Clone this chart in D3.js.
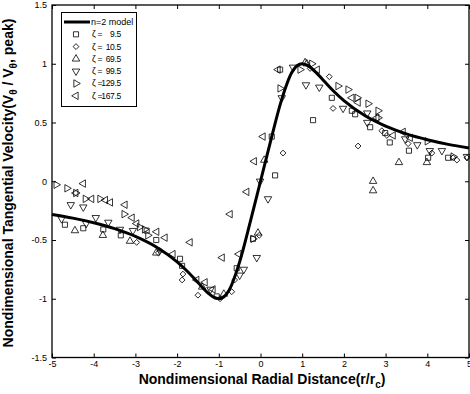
<!DOCTYPE html>
<html>
<head>
<meta charset="utf-8">
<script src="https://cdn.jsdelivr.net/npm/d3@7"></script>
<style>
  body { margin: 0; background: #fff; }
  text { font-family: Arial, "Liberation Sans", Helvetica, sans-serif; }
</style>
</head>
<body>
<div id="wrapper"></div>
<script>
// model curve (n=2)
const modelX = [-5, -4.5, -4, -3.5, -3, -2.5, -2, -1.75, -1.5, -1.25, -1.125, -1, -0.875, -0.75, -0.5, -0.25, 0,
  0.25, 0.5, 0.75, 0.875, 1, 1.125, 1.25, 1.5, 1.75, 2, 2.5, 3, 3.5, 4, 4.5, 5];
const modelY = [-0.283, -0.314, -0.353, -0.403, -0.469, -0.559, -0.686, -0.768, -0.862, -0.953, -0.986, -1.0, -0.983, -0.925, -0.686, -0.353, 0,
  0.353, 0.686, 0.925, 0.983, 1.0, 0.986, 0.953, 0.862, 0.768, 0.686, 0.559, 0.469, 0.403, 0.353, 0.314, 0.283];

// measured points, [r/rc, V/Vpeak]
const zeta95 = [[-4.69,-0.37],[-4.25,-0.40],[-3.77,-0.41],[-3.35,-0.46],[-2.73,-0.42],[-2.50,-0.50],[-1.93,-0.66],
  [-1.88,-0.72],[-1.05,-0.98],[-0.57,-0.74],[-0.18,-0.49],[0.27,0.38],[0.35,0.05],[1.26,0.52],[1.71,0.71],
  [2.19,0.60],[2.27,0.57],[2.63,0.46],[2.99,0.41],[3.10,0.33],[3.56,0.26],[4.02,0.20],[4.50,0.20],[0.47,0.95]];
const zeta105 = [[-2.97,-0.52],[-2.45,-0.61],[-2.41,-0.59],[-1.86,-0.79],[-1.88,-0.84],[-1.50,-0.97],[-0.97,-1.0],
  [-0.69,-0.94],[-0.62,-0.84],[-0.03,-0.46],[0.54,0.24],[1.19,0.96],[1.65,0.89],[1.74,0.62],[2.34,0.30],
  [2.91,0.43],[3.03,0.39],[3.54,0.32],[4.11,0.24],[4.62,0.20],[4.71,0.18],[4.95,0.20]];
const zeta695 = [[-4.45,-0.42],[-3.78,-0.46],[-3.13,-0.51],[-2.50,-0.61],[-1.40,-0.90],[-0.88,-0.96],[-0.06,-0.44],
  [0.09,0.18],[1.07,1.01],[1.11,1.0],[2.70,0.0],[2.70,-0.08],[3.32,0.16],[3.99,0.16]];
const zeta995 = [[-4.77,-0.32],[-4.55,-0.20],[-4.25,-0.22],[-4.18,-0.36],[-3.95,-0.31],[-3.65,-0.35],[-3.37,-0.41],
  [-3.06,-0.42],[-1.20,-0.92],[-0.50,-0.80],[-0.40,-0.75],[-0.09,-0.65],[-0.01,0.0],[0.18,-0.15],[0.51,0.71],
  [0.78,0.97],[1.09,0.82],[1.41,0.80],[1.98,0.62],[2.56,0.58],[2.56,0.50],[3.47,0.36],[3.76,0.31],[4.06,0.26],
  [4.35,0.26],[4.95,0.21]];
const zeta1295 = [[-4.90,-0.03],[-4.64,-0.06],[-4.43,-0.10],[-4.20,-0.15],[-3.85,-0.15],[-3.27,-0.28],[-2.90,-0.39],
  [-2.78,-0.41],[-2.70,-0.46],[-0.18,-0.49],[0.47,0.79],[0.95,0.95],[1.23,1.0],[1.86,0.81],[2.10,0.78],
  [2.32,0.71],[2.58,0.66],[2.82,0.60],[2.82,0.54],[4.00,0.34],[4.62,0.21]];
const zeta1675 = [[-4.43,-0.10],[-4.25,-0.02],[-4.05,-0.15],[-3.72,-0.16],[-3.60,-0.18],[-3.25,-0.20],[-3.08,-0.31],
  [-2.97,-0.36],[-2.49,-0.43],[-2.29,-0.48],[-2.10,-0.62],[-1.69,-0.52],[-1.53,-0.84],[-1.33,-0.86],[-1.14,-0.92],
  [-0.92,-0.65],[-0.73,-0.28],[-0.52,-0.62],[-0.33,-0.09],[-0.15,0.17],[0.06,0.38],[0.42,0.95],[1.36,0.95],
  [2.19,0.71],[2.34,0.67],[2.79,0.54],[3.18,0.39],[3.42,0.42],[3.59,0.37]];

const seriesNames = ["9.5", "10.5", "69.5", "99.5", "129.5", "167.5"];
const seriesData = [zeta95, zeta105, zeta695, zeta995, zeta1295, zeta1675];
const seriesMarkers = ["square", "diamond", "up", "down", "right", "left"];

const xTicks = [-5, -4, -3, -2, -1, 0, 1, 2, 3, 4, 5];
const yTicks = [-1.5, -1, -0.5, 0, 0.5, 1, 1.5];

const xAccessor = d => d[0];
const yAccessor = d => d[1];

let dimensions = {
  width: 470,
  height: 394,
  margin: { top: 5, right: 1, bottom: 36.5, left: 52 },
};
dimensions.boundedWidth = dimensions.width - dimensions.margin.left - dimensions.margin.right;
dimensions.boundedHeight = dimensions.height - dimensions.margin.top - dimensions.margin.bottom;

const svg = d3.select("#wrapper")
  .append("svg")
  .attr("width", dimensions.width)
  .attr("height", dimensions.height);

const bounds = svg.append("g")
  .attr("transform", `translate(${dimensions.margin.left},${dimensions.margin.top})`);

const xScale = d3.scaleLinear().domain([-5, 5]).range([0, dimensions.boundedWidth]);
const yScale = d3.scaleLinear().domain([-1.5, 1.5]).range([dimensions.boundedHeight, 0]);

// marker shapes
const markerPath = name => {
  if (name === "square") return d3.symbol(d3.symbolSquare, 26)();
  if (name === "diamond") return d3.symbol(d3.symbolSquare, 17)();
  return d3.symbol(d3.symbolTriangle, 24)();
};
const markerRotate = { square: 0, diamond: 45, up: 0, down: 180, right: 90, left: -90 };

// axes (ticks point inward, MATLAB style)
const fmt = d => String(d);
bounds.append("g")
  .attr("transform", `translate(0,${dimensions.boundedHeight})`)
  .call(d3.axisBottom(xScale).tickValues(xTicks).tickFormat(fmt).tickSizeInner(-4).tickSizeOuter(0).tickPadding(3))
  .call(g => g.select(".domain").remove());
bounds.append("g")
  .call(d3.axisLeft(yScale).tickValues(yTicks).tickFormat(fmt).tickSizeInner(-4).tickSizeOuter(0).tickPadding(5))
  .call(g => g.select(".domain").remove());
bounds.append("g")
  .call(d3.axisTop(xScale).tickValues(xTicks).tickFormat("").tickSizeInner(-4).tickSizeOuter(0))
  .call(g => g.select(".domain").remove());
bounds.append("g")
  .attr("transform", `translate(${dimensions.boundedWidth},0)`)
  .call(d3.axisRight(yScale).tickValues(yTicks).tickFormat("").tickSizeInner(-4).tickSizeOuter(0))
  .call(g => g.select(".domain").remove());
bounds.selectAll(".tick text").attr("font-size", 9).attr("fill", "#000").style("font-family", "Arial, 'Liberation Sans', sans-serif");
bounds.selectAll(".tick line").attr("stroke", "#000");

bounds.append("rect")
  .attr("width", dimensions.boundedWidth)
  .attr("height", dimensions.boundedHeight)
  .attr("fill", "none")
  .attr("stroke", "#000")
  .attr("stroke-width", 1.3);

// data points
seriesData.forEach((data, i) => {
  const m = seriesMarkers[i];
  bounds.append("g")
    .selectAll("path")
    .data(data)
    .join("path")
    .attr("d", markerPath(m))
    .attr("transform", d => `translate(${xScale(xAccessor(d))},${yScale(yAccessor(d))}) rotate(${markerRotate[m]})`)
    .attr("fill", "none")
    .attr("stroke", "#000")
    .attr("stroke-width", 0.8);
});

// model line
const lineGenerator = d3.line()
  .x((d, i) => xScale(modelX[i]))
  .y((d, i) => yScale(modelY[i]))
  .curve(d3.curveMonotoneX);
bounds.append("path")
  .attr("d", lineGenerator(modelX))
  .attr("fill", "none")
  .attr("stroke", "#000")
  .attr("stroke-width", 3);

// legend
const legend = svg.append("g");
legend.append("rect")
  .attr("x", 61.5).attr("y", 12.5).attr("width", 75).attr("height", 94)
  .attr("fill", "#fff").attr("stroke", "#000").attr("stroke-width", 1);
const rowY = i => 22 + i * 12.3;
legend.append("line")
  .attr("x1", 64).attr("x2", 90).attr("y1", rowY(0)).attr("y2", rowY(0))
  .attr("stroke", "#000").attr("stroke-width", 3);
legend.append("text")
  .attr("x", 91).attr("y", rowY(0)).attr("dy", "0.35em")
  .attr("font-size", 9).text("n=2 model");
seriesNames.forEach((name, i) => {
  const y = rowY(i + 1);
  const m = seriesMarkers[i];
  legend.append("path")
    .attr("d", markerPath(m))
    .attr("transform", `translate(76,${y}) rotate(${markerRotate[m]})`)
    .attr("fill", "none").attr("stroke", "#000").attr("stroke-width", 0.8);
  legend.append("text")
    .attr("x", 92).attr("y", y).attr("dy", "0.35em")
    .attr("font-size", 8.5).text("\u03B6");
  legend.append("text")
    .attr("x", 97.5).attr("y", y).attr("dy", "0.35em")
    .attr("font-size", 8.5).text("=");
  legend.append("text")
    .attr("x", 121).attr("y", y).attr("dy", "0.35em")
    .attr("text-anchor", "end")
    .attr("letter-spacing", -0.3)
    .attr("font-size", 8.5).text(name);
});

// axis labels
const xLabel = svg.append("text")
  .attr("x", 262).attr("y", 384)
  .attr("text-anchor", "middle")
  .attr("font-size", 14).attr("font-weight", "bold");
xLabel.append("tspan").text("Nondimensional Radial Distance(r/r");
xLabel.append("tspan").attr("font-size", 10).attr("dy", 4).text("c");
xLabel.append("tspan").attr("dy", -4).text(")");

const yLabel = svg.append("text")
  .attr("transform", "translate(13,183) rotate(-90)")
  .attr("text-anchor", "middle")
  .attr("font-size", 14).attr("font-weight", "bold");
yLabel.append("tspan").text("Nondimensional Tangential Velocity(V");
yLabel.append("tspan").attr("font-size", 10).attr("dy", 4).text("\u03B8");
yLabel.append("tspan").attr("dy", -4).text(" / V");
yLabel.append("tspan").attr("font-size", 10).attr("dy", 4).text("\u03B8");
yLabel.append("tspan").attr("dy", -4).text(", peak)");
</script>
</body>
</html>
